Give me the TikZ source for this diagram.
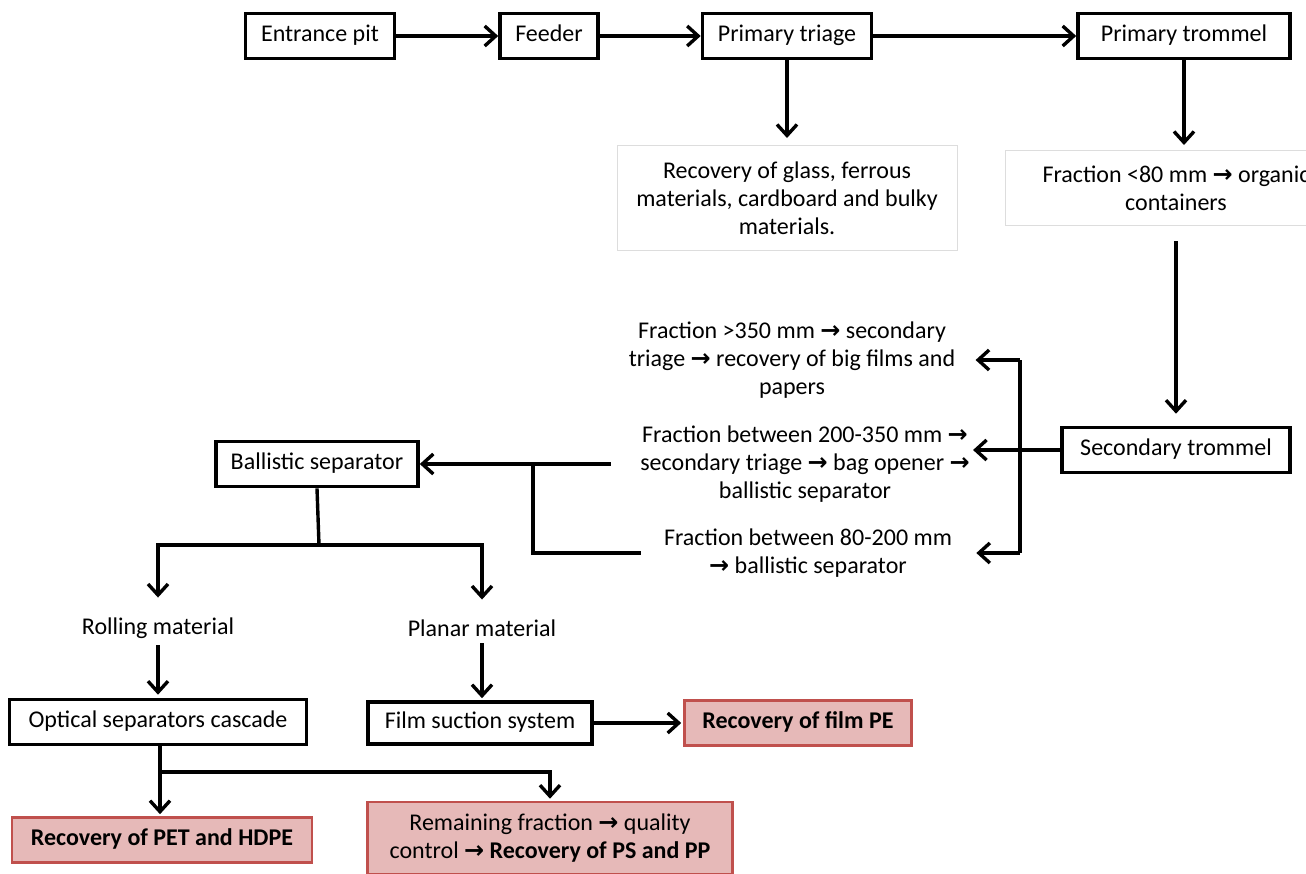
\documentclass[tikz,border=0pt]{standalone}
\usepackage{fontspec}
\setmainfont{Carlito}
\newfontfamily\symfont{DejaVu Sans Bold}
\newcommand{\tto}{{\symfont\char"2192}}
\usetikzlibrary{arrows.meta, positioning}

\definecolor{pinkfill}{HTML}{E6B9B8}
\definecolor{pinkedge}{HTML}{C0504D}
\definecolor{noteedge}{HTML}{DDDDDD}

\tikzset{
  proc/.style={draw, line width=1.8pt, minimum height=22.5pt, inner xsep=0pt, align=center,
    text height=1.6ex, text depth=.4ex},
  outbox/.style={proc, draw=pinkedge, fill=pinkfill, line width=1.3pt, font=\fontsize{12}{14}\selectfont\bfseries},
  note/.style={draw=noteedge, line width=0.5pt, align=center},
  txt/.style={align=center, inner sep=0pt},
  arr/.style={line width=1.7pt, -{Straight Barb[length=5.5pt,width=10pt]}},
  link/.style={line width=1.7pt}
}

\begin{document}
\begin{tikzpicture}[x=0.5pt, y=-0.5pt, font=\fontsize{12}{14}\selectfont, on grid]
\clip (0,0) rectangle (1306,873);

% Top row
\node[proc, minimum width=74.5pt] (entr) at (320,36) {Entrance pit};
\node[proc, minimum width=49pt, right=114.5pt of entr] (feed) {Feeder};
\node[proc, minimum width=84.5pt, right=119pt of feed] (ptri) {Primary triage};
\node[proc, minimum width=106pt, right=198.5pt of ptri] (ptrom) {Primary trommel};
\node[note, minimum width=170pt, minimum height=52.5pt, below=81pt of ptri] (glass)
  {Recovery of glass, ferrous\\materials, cardboard and bulky\\materials.};
\node[note, minimum width=171pt, minimum height=37.5pt] (frac) at (1176,188)
  {Fraction <80 mm \tto{} organic\\containers};

% Secondary trommel and its fractions
\node[proc, minimum width=114pt] (strom) at (1176,450) {Secondary trommel};
\node[txt] (f350) at (792,360) {Fraction >350 mm \tto{} secondary\\triage \tto{} recovery of big films and\\papers};
\node[txt] (f200) at (805,464) {Fraction between 200-350 mm \tto\\secondary triage \tto{} bag opener \tto\\ballistic separator};
\node[txt] (f80) at (808,553) {Fraction between 80-200 mm\\\tto{} ballistic separator};
\coordinate (bar) at (1020,450);
\coordinate (jn) at (533,464);

% Ballistic separator branch
\node[proc, minimum width=101pt] (ball) at (317,464) {Ballistic separator};
\coordinate (bsplit) at (319,545);
\node (roll) at (158,628) {Rolling material};
\node (plan) at (482,628) {Planar material};
\node[proc, minimum width=148.5pt, below=47pt of roll] (opt) {Optical separators cascade};
\node[proc, minimum width=112pt, minimum height=21pt] (film) at (480,723) {Film suction system};
\node[outbox, minimum width=113.5pt, right=159pt of film] (filmpe) {Recovery of film PE};
\coordinate (osplit) at (160,772);
\node[outbox, minimum width=150pt] (pet) at (162,840) {Recovery of PET and HDPE};
\node[outbox, minimum width=182.5pt, minimum height=36pt, text height=, text depth=,
  font=\fontsize{12}{14}\selectfont] (rem) at (550,838)
  {Remaining fraction \tto{} quality\\control \tto{} \textbf{Recovery of PS and PP}};

% Arrows
\draw[arr] (entr) -- (feed);
\draw[arr] (feed) -- (ptri);
\draw[arr] (ptri) -- (ptrom);
\draw[arr, shorten >=3.5pt] (ptri.south) -- (ptri.south |- glass.north);
\draw[arr, shorten >=2.5pt] (ptrom.south) -- (ptrom.south |- frac.north);
\draw[arr, shorten <=7.5pt, shorten >=6pt] (frac.south) -- (frac.south |- strom.north);

\draw[link] (f350.east -| bar) -- (f80.east -| bar);
\draw[arr, shorten >=1.5pt] (strom.west) -- (strom.west -| f200.east);
\draw[arr, shorten >=10pt] (f350.east -| bar) -- (f350.east);
\draw[arr, shorten >=12pt] (f80.east -| bar) -- (f80.east);

\draw[arr, shorten <=14.5pt] (f200.west) -- (ball.east);
\draw[link] ([xshift=-11.5pt]f80.west) -| (jn);

\draw[link] (ball.south) -- (bsplit);
\draw[arr, shorten >=6.5pt] (bsplit) -| (roll.north);
\draw[arr, shorten >=6.5pt] (bsplit) -| (plan.north);
\draw[arr, shorten >=1.5pt] (roll) -- (opt);
\draw[arr, shorten >=1pt] (plan.south) -- (plan.south |- film.north);
\draw[arr, shorten >=1pt] (film) -- (filmpe);

\draw[link] (opt.south -| osplit) -- (osplit);
\draw[arr, shorten >=1pt] (osplit) -- (osplit |- pet.north);
\draw[arr, shorten >=1pt] (osplit) -| (rem.north);
\end{tikzpicture}
\end{document}
